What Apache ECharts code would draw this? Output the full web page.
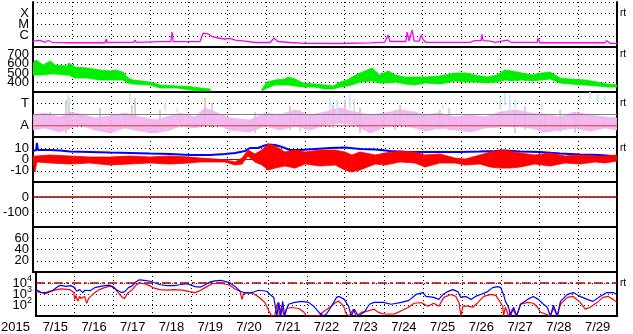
<!DOCTYPE html>
<html><head><meta charset="utf-8">
<script src="https://cdn.jsdelivr.net/npm/echarts@6/dist/echarts.min.js"></script>
<style>html,body{margin:0;padding:0;background:#fff}#c{width:633px;height:334px}</style>
</head><body><div id="c"></div>
<script>
// ---- axis / tick labels ----
const dayLabels = ['7/15','7/16','7/17','7/18','7/19','7/20','7/21','7/22','7/23','7/24','7/25','7/26','7/27','7/28','7/29'];
const yearLabel = '2015';
const xrayTickVals = [-6, -5, -4], xrayTickText = ['C', 'M', 'X'];
const speedTickVals = [400, 500, 600, 700];
const kpTickVals = [1, 3], kpTickText = ['A', 'T'];
const bTickVals = [-10, 0, 10];
const dstTickVals = [-100, 0];
const p6TickVals = [20, 40, 60];
const eTickVals = [2, 3, 4];

// ---- Panel 1: X-ray flux, log10 (time in days from 7/15 00:00) ----
const xray = [[0.00,-6.47],[0.18,-6.42],[0.31,-6.58],[0.39,-6.42],[0.49,-6.58],[0.87,-6.62],[1.46,-6.62],[1.85,-6.62],[1.88,-6.29],[1.90,-6.60],
[2.23,-6.58],[2.59,-6.58],[2.62,-6.38],[2.65,-6.58],[3.26,-6.53],[3.54,-6.53],[3.57,-5.67],[3.60,-6.53],[4.29,-6.51],[4.37,-5.76],
[4.42,-5.67],[4.50,-5.84],[4.60,-6.07],[4.75,-6.20],[4.93,-6.29],[5.06,-6.24],[5.19,-6.38],[5.45,-6.47],[5.70,-6.60],[6.09,-6.60],
[6.19,-6.20],[6.29,-6.51],[6.60,-6.60],[6.99,-6.67],[7.89,-6.69],[8.66,-6.64],[9.04,-6.56],[9.12,-5.93],[9.17,-6.51],[9.58,-6.51],
[9.61,-5.67],[9.66,-6.47],[9.74,-5.49],[9.79,-6.47],[9.92,-6.47],[9.97,-5.93],[10.02,-6.33],[10.09,-6.58],[11.23,-6.58],[11.33,-6.44],
[11.51,-6.44],[11.53,-5.87],[11.56,-6.44],[11.74,-6.47],[11.87,-6.58],[12.18,-6.38],[12.28,-6.58],[12.95,-6.58],[12.97,-6.23],[13.02,-6.62],
[14.05,-6.62],[14.69,-6.62],[14.74,-6.44],[14.82,-6.67],[15.00,-6.67]];

// ---- Panel 2: solar wind speed band [t, low, high] km/s ----
const speed = [[0.00,481,609],[0.08,481,641],[0.26,481,588],[0.44,492,631],[0.57,492,588],[0.87,481,577],[0.92,481,609],[1.08,449,567],[1.39,449,556],[1.72,428,535],
[1.98,428,524],[2.11,428,535],[2.31,428,513],[2.44,396,449],[2.57,385,428],[3.00,375,407],[3.26,343,375],[3.70,343,364],[4.03,321,359],[4.29,311,343],
[4.55,311,332],[5.20,null,null],[5.88,311,332],[6.01,343,407],[6.22,375,428],[6.47,375,439],[6.55,375,460],[6.73,364,439],[6.94,353,396],[7.24,353,385],
[7.50,332,375],[7.71,332,364],[7.89,353,407],[8.07,364,428],[8.19,375,460],[8.40,407,503],[8.71,417,556],[8.91,396,481],[9.12,396,524],[9.30,407,481],
[9.56,385,460],[9.81,375,460],[10.07,396,460],[10.45,385,471],[10.84,417,503],[11.10,407,503],[11.35,407,481],[11.66,396,460],[11.92,407,481],[12.12,428,535],
[12.30,417,524],[12.56,428,503],[12.82,417,481],[13.07,428,503],[13.28,439,513],[13.54,396,449],[13.79,385,439],[14.18,375,428],[14.49,364,407],[14.74,353,385],
[15.00,353,375]];

// ---- Panel 3: index panel, bands [t, low, high] ----
const pink = [[0.00,0.62,1.96],[0.31,0.80,2.13],[0.69,0.44,1.78],[0.95,0.80,2.22],[1.21,1.07,2.04],[1.59,0.62,1.69],[1.98,0.36,1.87],[2.36,0.80,2.13],[2.75,0.53,1.78],[3.13,0.36,1.51],
[3.52,0.62,1.87],[3.78,0.98,2.13],[4.16,0.80,1.78],[4.42,1.07,2.58],[4.68,1.16,2.22],[5.06,0.62,1.69],[5.57,0.44,1.51],[5.96,0.98,2.13],[6.34,0.62,1.96],[6.73,0.98,2.40],
[7.12,0.62,1.96],[7.50,1.07,2.22],[7.89,1.24,2.58],[8.27,1.07,2.22],[8.66,0.36,1.96],[9.04,0.89,2.13],[9.43,1.07,2.40],[9.81,0.80,2.22],[10.07,0.53,1.96],[10.45,0.80,2.13],
[10.84,0.62,1.78],[11.23,0.44,1.96],[11.61,0.80,1.78],[12.00,0.89,2.22],[12.38,0.98,2.40],[12.77,0.80,2.13],[13.15,0.44,2.04],[13.54,0.62,1.78],[13.92,0.80,2.22],[14.31,0.53,1.96],
[14.69,0.80,1.78],[15.00,0.62,1.69]];
const grayMarks = [[0.44,0.80,2.22],[0.85,0.36,3.29],[0.92,0.62,3.02],[1.72,0.62,2.58],[2.54,1.33,2.84],[2.62,1.69,3.47],[3.26,0.62,2.40],[4.42,0.98,3.47],[4.60,0.80,3.02],[5.70,0.36,2.22],
[6.60,0.62,2.76],[6.86,0.53,2.40],[7.71,0.80,2.84],[8.01,0.98,3.29],[8.40,0.36,2.58],[9.30,0.62,2.40],[9.43,1.07,2.84],[10.45,0.62,2.40],[10.69,0.62,2.58],[12.38,0.36,2.22],
[12.64,0.62,2.76],[13.54,0.44,2.40],[13.92,0.36,2.22]];
const cyanMarks = [[0.90,2.84,3.73],[0.95,2.93,3.47],[2.49,3.02,3.91],[3.39,2.40,3.02],[3.70,2.22,2.58],[7.63,2.40,3.47],[7.81,2.04,3.29],[8.14,2.58,3.82],[8.25,2.22,3.38],[10.53,2.58,2.84],
[12.00,2.40,3.56],[12.12,2.84,3.91],[12.25,2.13,3.73],[12.38,2.58,3.29],[13.07,2.40,3.02],[14.05,3.02,3.73],[14.31,3.29,4.00],[14.51,3.02,3.82],[14.69,3.20,3.64]];
const kpRefGray = 2, kpRefRed = 1;

// ---- Panel 4: IMF Bt (line) and Bz (band) nT ----
const bt = [[0.00,7.6],[0.08,8.4],[0.10,14.7],[0.13,8.4],[0.44,8.4],[0.69,8.0],[0.95,7.1],[1.46,6.7],[1.98,6.2],[2.49,5.8],
[3.00,5.3],[3.52,4.9],[4.03,4.0],[4.55,4.0],[4.93,4.9],[5.19,5.8],[5.45,7.6],[5.57,10.2],[5.78,10.2],[5.91,12.0],
[6.04,13.3],[6.22,12.9],[6.40,11.1],[6.60,8.4],[6.86,8.4],[7.24,9.3],[7.63,10.2],[8.01,10.7],[8.40,9.3],[8.79,8.9],
[9.17,7.6],[9.56,6.7],[9.94,6.7],[10.45,6.7],[10.97,6.7],[11.48,7.1],[11.87,7.6],[12.12,8.0],[12.51,7.1],[13.02,6.7],
[13.54,5.3],[14.05,4.4],[14.56,4.0],[14.87,3.1],[15.00,2.2]];
const bz = [[0.00,-3.1,4.0],[0.05,-11.1,3.0],[0.10,-2.2,3.1],[0.44,-3.1,4.0],[0.95,-4.0,3.1],[1.46,-3.1,2.2],[1.98,-4.9,2.2],[2.49,-4.0,3.1],[3.00,-3.1,2.2],[3.52,-4.0,3.1],
[4.03,-3.1,2.2],[4.29,-2.2,1.3],[4.68,-2.2,0.4],[4.93,-2.2,-0.4],[5.19,-4.9,-2.2],[5.37,-4.0,1.3],[5.52,3.1,8.4],[5.70,-2.2,4.9],[5.88,-4.9,8.4],[6.04,-9.3,13.8],
[6.22,-7.6,12.0],[6.47,-5.8,6.7],[6.73,-7.6,8.4],[6.99,-4.0,6.7],[7.37,-5.8,8.4],[7.76,-4.9,8.4],[8.01,-9.3,6.7],[8.19,-11.1,4.0],[8.40,-9.3,6.7],[8.79,-4.0,4.0],
[9.04,-4.9,5.8],[9.43,-2.2,7.6],[9.81,-3.1,6.7],[10.07,-6.7,4.0],[10.45,-3.1,4.9],[10.84,-3.1,1.3],[11.10,-4.9,0.4],[11.48,-4.0,4.0],[11.74,-6.7,6.7],[12.00,-7.6,8.4],
[12.25,-7.6,7.6],[12.51,-6.7,5.8],[12.89,-4.0,4.0],[13.28,-5.8,5.8],[13.67,-3.1,3.1],[14.05,-4.0,4.0],[14.44,-2.2,3.1],[14.69,-3.1,3.1],[15.00,-1.3,4.0]];
const bRef = 0;

// ---- Panel 5 reference ----
const dstRef = 0;

// ---- Panel 7: electron flux, log10 ----
const eHigh = [[0.00,3.40],[0.13,3.16],[0.26,3.13],[0.44,3.34],[0.57,3.69],[0.64,3.78],[0.77,3.69],[0.90,3.76],[1.00,3.58],[1.05,3.25],
[1.13,3.40],[1.21,3.13],[1.26,3.34],[1.31,3.16],[1.41,3.31],[1.52,3.58],[1.64,3.67],[1.77,3.76],[1.90,3.80],[2.00,3.58],
[2.11,3.31],[2.21,3.13],[2.29,3.22],[2.39,3.58],[2.49,3.76],[2.59,4.11],[2.67,4.29],[2.80,4.24],[2.95,4.16],[3.06,4.02],
[3.21,3.84],[3.39,3.76],[3.57,3.76],[3.72,3.84],[3.88,3.93],[3.98,3.84],[4.11,3.67],[4.24,3.62],[4.37,3.84],[4.50,4.11],
[4.62,4.20],[4.80,4.23],[4.98,4.05],[5.14,3.69],[5.27,3.25],[5.39,3.11],[5.57,3.11],[5.75,3.34],[5.96,3.25],[6.04,2.96],
[6.14,2.69],[6.22,1.0],[6.27,2.24],[6.32,1.0],[6.37,2.33],[6.42,1.0],[6.47,1.62],[6.52,2.07],[6.68,2.24],[6.86,2.33],
[7.04,2.24],[7.17,1.89],[7.30,1.36],[7.42,1.0],[7.50,1.18],[7.63,1.89],[7.76,2.69],[7.83,2.78],[7.96,2.51],[8.07,1.89],
[8.14,1.0],[8.22,1.62],[8.32,1.0],[8.48,1.36],[8.61,2.07],[8.73,2.24],[8.96,2.24],[9.17,2.07],[9.43,2.24],[9.63,2.42],
[9.81,2.96],[9.99,3.13],[10.07,2.78],[10.27,2.69],[10.40,2.51],[10.51,2.96],[10.63,3.22],[10.76,3.40],[10.89,3.22],[10.97,2.69],
[11.10,2.78],[11.23,2.51],[11.35,2.78],[11.48,2.96],[11.66,3.22],[11.79,3.58],[11.92,3.67],[12.00,3.58],[12.07,2.96],[12.12,2.33],
[12.20,1.80],[12.25,1.0],[12.33,1.80],[12.41,1.0],[12.51,2.07],[12.69,2.51],[12.84,2.78],[12.97,2.51],[13.10,2.07],[13.20,1.80],
[13.28,1.0],[13.36,1.98],[13.46,1.0],[13.54,2.33],[13.72,2.96],[13.87,3.13],[14.05,2.78],[14.23,2.51],[14.38,2.33],[14.56,2.78],
[14.74,3.13],[14.90,3.13],[15.00,2.96]];
const eLow = [[0.00,3.25],[0.13,3.13],[0.26,3.04],[0.44,3.31],[0.64,3.46],[0.87,3.40],[0.98,3.13],[1.00,2.51],[1.03,2.87],[1.08,2.36],
[1.13,2.80],[1.16,2.60],[1.26,2.78],[1.28,2.51],[1.31,2.16],[1.36,2.60],[1.41,2.78],[1.52,3.13],[1.64,3.40],[1.77,3.58],
[1.90,3.71],[2.00,3.67],[2.08,3.31],[2.16,2.96],[2.23,2.69],[2.29,2.60],[2.36,3.04],[2.49,3.40],[2.59,3.84],[2.67,3.98],
[2.80,3.93],[2.93,3.76],[3.06,3.53],[3.19,3.40],[3.39,3.36],[3.57,3.40],[3.78,3.36],[3.96,3.22],[4.11,3.13],[4.24,3.31],
[4.37,3.58],[4.55,3.93],[4.73,4.00],[4.98,3.84],[5.14,3.46],[5.27,3.25],[5.32,2.51],[5.37,3.11],[5.57,3.11],[5.65,2.96],
[5.78,2.66],[5.91,2.22],[6.01,1.47],[6.09,1.0],[6.16,1.0],[6.24,2.22],[6.29,1.0],[6.34,1.92],[6.40,1.0],[6.47,1.68],
[6.60,1.77],[6.78,1.68],[6.91,1.38],[6.99,1.0],[7.30,1.0],[7.42,1.38],[7.58,1.77],[7.71,2.16],[7.81,2.36],[7.94,1.92],
[8.01,1.18],[8.09,1.0],[8.19,1.62],[8.27,1.0],[8.40,1.33],[8.58,1.47],[8.73,1.62],[8.84,1.33],[8.99,1.18],[9.25,1.18],
[9.43,1.47],[9.61,1.77],[9.76,2.16],[9.94,2.22],[10.12,1.89],[10.27,2.16],[10.40,1.89],[10.53,2.69],[10.71,2.96],[10.84,2.78],
[10.92,2.24],[10.97,1.0],[11.02,1.89],[11.15,1.89],[11.28,1.80],[11.41,2.24],[11.56,2.78],[11.74,2.96],[11.87,2.87],[11.94,2.51],
[12.05,1.89],[12.07,1.0],[12.12,1.80],[12.20,1.0],[12.30,1.62],[12.41,1.0],[12.51,2.07],[12.69,2.24],[12.84,2.16],[12.95,1.80],
[13.02,1.36],[13.15,1.18],[13.28,1.0],[13.36,1.71],[13.46,1.0],[13.54,2.07],[13.72,2.69],[13.87,2.78],[14.05,2.24],[14.18,1.62],
[14.31,1.80],[14.49,2.24],[14.64,2.69],[14.77,2.78],[14.90,2.51],[15.00,2.24]];
const eRef = 4;

// ---------------- chart building ----------------
const FONT = 'Liberation Sans';
const tops = [2, 47, 92, 137, 182, 227, 272];
const H = 45;
const DAYS = 15;

function lookup(vals, texts) {
  return function (v) { const i = vals.indexOf(v); return i < 0 ? '' : (texts ? texts[i] : String(v)); };
}
const axes = [
  { min: -7, max: -3, interval: 1, fmt: lookup(xrayTickVals, xrayTickText), rt: -4 },
  { min: 300, max: 780, interval: 100, fmt: lookup(speedTickVals), rt: 700 },
  { min: 0, max: 4, interval: 1, fmt: lookup(kpTickVals, kpTickText), rt: 3 },
  { min: -20, max: 20, interval: 10, fmt: lookup(bTickVals), rt: 10 },
  { min: -200, max: 100, interval: 100, fmt: lookup(dstTickVals), rt: null },
  { min: 0, max: 80, interval: 20, fmt: lookup(p6TickVals), rt: null },
  { min: 1, max: 5, interval: 1, fmt: function (v) { return eTickVals.indexOf(v) < 0 ? '' : '{b|10}{s|' + v + '}'; }, rt: 4 }
];

const grid = [], xAxis = [], yAxis = [], series = [];
const dotted = { color: '#000', width: 1, type: [1, 3] };
tops.forEach(function (t, i) {
  grid.push({ left: 33, right: 16, top: t, height: H });
  xAxis.push({ type: 'value', gridIndex: i, min: 0, max: DAYS, interval: 1,
    axisLine: { show: true, onZero: false, lineStyle: { color: '#000', width: 2 } },
    axisTick: { show: false }, axisLabel: { show: false },
    splitLine: { show: true, lineStyle: dotted } });
});
axes.forEach(function (a, i) {
  yAxis.push({ type: 'value', gridIndex: i, min: a.min, max: a.max, interval: a.interval,
    axisLine: { show: true, onZero: false, lineStyle: { color: '#000', width: 2 } },
    axisTick: { show: false },
    axisLabel: { color: '#000', fontSize: 13, fontFamily: FONT, margin: 4, formatter: a.fmt,
      rich: { b: { fontSize: 13, fontFamily: FONT, color: '#000', padding: [2, 0, 2, 0] },
              s: { fontSize: 9, fontFamily: FONT, color: '#000', padding: [0, 0, 8, 0] } } },
    splitLine: { show: true, lineStyle: dotted } });
});
axes.forEach(function (a, i) {
  yAxis.push({ type: 'value', gridIndex: i, position: 'right', min: a.min, max: a.max, interval: a.interval,
    axisLine: { show: true, onZero: false, lineStyle: { color: '#000', width: 2 } },
    axisTick: { show: false }, splitLine: { show: false },
    axisLabel: { show: a.rt !== null, color: '#000', fontSize: 10, fontFamily: FONT, margin: 3,
      formatter: function (v) { return v === a.rt ? 'rt' : ''; } } });
});
// day labels
xAxis.push({ type: 'category', gridIndex: 6, position: 'bottom', data: dayLabels, boundaryGap: true,
  axisLine: { show: false }, axisTick: { show: false }, splitLine: { show: false },
  axisLabel: { color: '#000', fontSize: 13, fontFamily: FONT, margin: 5, interval: 0 },
  name: yearLabel, nameLocation: 'start', nameGap: 6,
  nameTextStyle: { color: '#000', fontSize: 13, fontFamily: FONT, verticalAlign: 'top', padding: [5, 0, 0, 0] } });

function line(i, data, color, w, z, type) {
  return { type: 'line', xAxisIndex: i, yAxisIndex: i, data: data, symbol: 'none', showSymbol: false,
    lineStyle: { color: color, width: w, type: type || 'solid' }, z: z, silent: true, clip: true };
}
function refLine(i, v, color, w, z, type) {
  return line(i, [[0, v], [DAYS, v]], color, w, z, type);
}
function band(i, data, color, z, opacity) {
  const items = [];
  for (let k = 0; k < data.length - 1; k++) {
    const a = data[k], b = data[k + 1];
    if (a[1] == null || b[1] == null) continue;
    items.push([a[0], a[1], a[2], b[0], b[1], b[2]]);
  }
  return { type: 'custom', xAxisIndex: i, yAxisIndex: i, z: z, silent: true, clip: true,
    encode: { x: [0, 3], y: [1, 2, 4, 5] }, data: items,
    renderItem: function (p, api) {
      const c = function (x, y) { return api.coord([api.value(x), api.value(y)]); };
      return { type: 'polygon', shape: { points: [c(0, 1), c(0, 2), c(3, 5), c(3, 4)] },
        style: { fill: color, stroke: color, lineWidth: 0.8, opacity: opacity || 1 } };
    } };
}
function marks(i, data, color, w, z) {
  return { type: 'custom', xAxisIndex: i, yAxisIndex: i, z: z, silent: true, clip: true,
    encode: { x: 0, y: [1, 2] }, data: data,
    renderItem: function (p, api) {
      const a = api.coord([api.value(0), api.value(1)]), b = api.coord([api.value(0), api.value(2)]);
      return { type: 'line', shape: { x1: a[0], y1: a[1], x2: b[0], y2: b[1] }, style: { stroke: color, lineWidth: w } };
    } };
}

// panel 1
series.push(line(0, xray, '#ff00ff', 1.3, 5));
// panel 2
series.push(band(1, speed, '#00ee00', 5));
// panel 3
series.push(marks(2, grayMarks, '#d0d0d0', 2, 2));
series.push(band(2, pink, '#f2b0ee', 3, 0.9));
series.push(marks(2, cyanMarks, '#bde6f7', 1.5, 4));
series.push(refLine(2, kpRefGray, '#808080', 1.2, 6));
series.push(refLine(2, kpRefRed, '#e03c3c', 1.2, 6));
// panel 4
series.push(refLine(3, bRef, '#c00000', 1, 3));
series.push(line(3, bt, '#0000ff', 2, 4));
series.push(band(3, bz, '#ff0000', 5));
// panel 5
series.push(refLine(4, dstRef, '#a00000', 1.5, 5));
// panel 7
series.push(refLine(6, eRef, '#b00000', 1.5, 3, [9, 3, 3, 3]));
series.push(line(6, eLow, '#ff0000', 1.2, 4));
series.push(line(6, eHigh, '#0000ff', 1.2, 5));

const chart = echarts.init(document.getElementById('c'), null, { renderer: 'canvas' });
chart.setOption({ animation: false, backgroundColor: '#fff', textStyle: { fontFamily: FONT },
  grid: grid, xAxis: xAxis, yAxis: yAxis, series: series });
</script>
</body></html>
